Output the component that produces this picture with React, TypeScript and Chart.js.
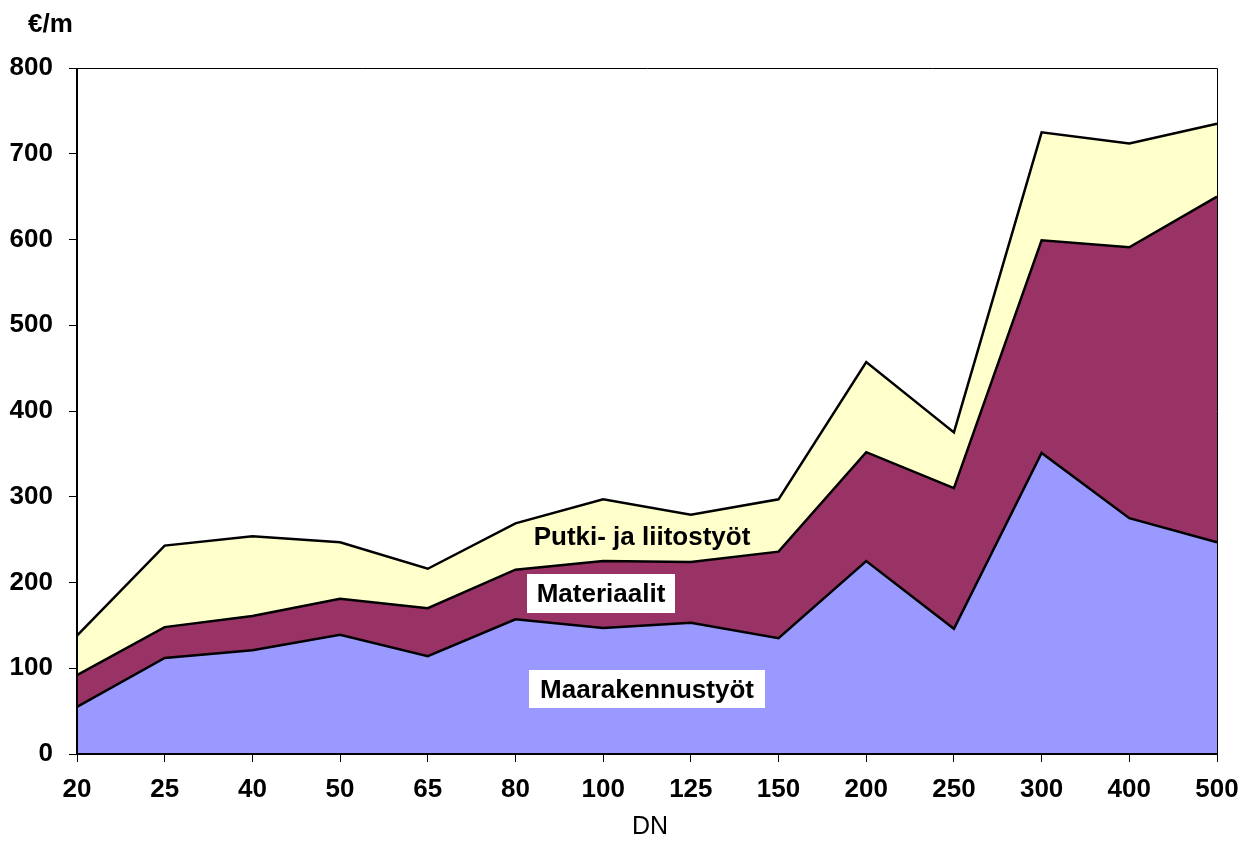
import React, { useEffect, useRef } from "react";
import { Chart, registerables } from "chart.js";
Chart.register(...registerables);

const categories = ["20", "25", "40", "50", "65", "80", "100", "125", "150", "200", "250", "300", "400", "500"];
const maarakennustyot = [55, 112, 121, 139, 114, 157, 147, 153, 135, 225, 146, 351, 275, 247];
const materiaalit = [37, 36, 40, 42, 56, 58, 78, 71, 101, 127, 164, 248, 316, 403];
const putkiJaLiitostyot = [46, 95, 93, 66, 46, 54, 72, 55, 61, 105, 65, 126, 121, 85];
const seriesNames = ["Maarakennustyöt", "Materiaalit", "Putki- ja liitostyöt"];
const yUnit = "€/m";
const xTitle = "DN";

const FONT = '"Liberation Sans", Arial, sans-serif';

const overlayPlugin = {
  id: "overlay",
  afterDatasetsDraw(chart: any) {
    const { ctx, chartArea } = chart;
    const { left, right, top, bottom } = chartArea;
    ctx.save();
    ctx.strokeStyle = "#000";
    ctx.lineWidth = 1;
    ctx.beginPath();
    ctx.moveTo(left, top + 0.5);
    ctx.lineTo(right + 0.5, top + 0.5);
    ctx.lineTo(right + 0.5, bottom);
    ctx.stroke();
    ctx.lineWidth = 2;
    ctx.beginPath();
    ctx.moveTo(left, top);
    ctx.lineTo(left, bottom);
    ctx.lineTo(right + 1, bottom);
    ctx.stroke();

    ctx.font = `bold 26px ${FONT}`;
    ctx.textAlign = "center";
    ctx.textBaseline = "alphabetic";
    ctx.fillStyle = "#fff";
    ctx.fillRect(left + 450, top + 506, 148, 39);
    ctx.fillRect(left + 452, top + 602, 236, 38);
    ctx.fillStyle = "#000";
    ctx.fillText(seriesNames[2], left + 565, top + 477);
    ctx.fillText(seriesNames[1], left + 524, top + 534);
    ctx.fillText(seriesNames[0], left + 570, top + 630);

    ctx.textAlign = "left";
    ctx.fillText(yUnit, 28, 32);
    ctx.font = `25px ${FONT}`;
    ctx.textAlign = "center";
    ctx.fillText(xTitle, 650, 834);
    ctx.restore();
  },
};

export default function App() {
  const ref = useRef<HTMLCanvasElement>(null);
  useEffect(() => {
    if (!ref.current) return;
    const mk = (label: string, data: number[], color: string, fill: any) => ({
      label,
      data,
      backgroundColor: color,
      borderColor: "#000",
      borderWidth: 2.5,
      pointRadius: 0,
      tension: 0,
      fill,
    });
    const chart = new Chart(ref.current, {
      type: "line",
      data: {
        labels: categories,
        datasets: [
          mk(seriesNames[0], maarakennustyot, "#9999FF", "origin"),
          mk(seriesNames[1], materiaalit, "#993366", "-1"),
          mk(seriesNames[2], putkiJaLiitostyot, "#FFFFCC", "-1"),
        ],
      },
      options: {
        responsive: false,
        animation: false,
        layout: { padding: { top: 68, right: 32, left: 0, bottom: 0 } },
        plugins: { legend: { display: false }, tooltip: { enabled: false } },
        scales: {
          x: {
            offset: false,
            grid: { display: true, drawOnChartArea: false, drawTicks: true, tickLength: 8, color: "#000", lineWidth: 1 },
            border: { display: false },
            ticks: {
              color: "#000",
              font: { family: FONT, size: 26, weight: "bold" },
              maxRotation: 0,
              autoSkip: false,
              padding: 12,
            },
            afterFit(scale: any) {
              scale.height = 87;
              scale.paddingLeft = 0;
              scale.paddingRight = 0;
            },
          },
          y: {
            stacked: true,
            min: 0,
            max: 800,
            grid: { display: true, drawOnChartArea: false, drawTicks: true, tickLength: 8, color: "#000", lineWidth: 1 },
            border: { display: false },
            ticks: {
              stepSize: 100,
              color: "#000",
              font: { family: FONT, size: 26, weight: "bold" },
              padding: 16,
            },
            afterFit(scale: any) {
              scale.width = 77;
              scale.paddingTop = 0;
              scale.paddingBottom = 0;
            },
          },
        },
      },
      plugins: [overlayPlugin],
    } as any);
    return () => chart.destroy();
  }, []);
  return (
    <div style={{ position: "absolute", left: 0, top: 0, width: 1249, height: 841 }}>
      <canvas ref={ref} width={1249} height={841} />
    </div>
  );
}
